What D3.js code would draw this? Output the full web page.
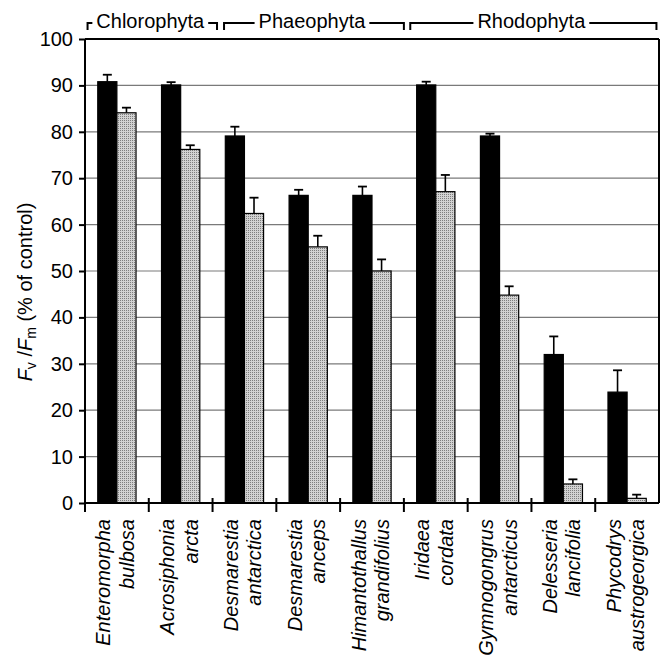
<!DOCTYPE html>
<html>
<head>
<meta charset="utf-8">
<script src="https://cdn.jsdelivr.net/npm/d3@7/dist/d3.min.js"></script>
<style>
  html, body { margin: 0; padding: 0; background: #fff; }
  svg { display: block; font-family: "Liberation Sans", Arial, Helvetica, sans-serif; }
</style>
</head>
<body>
<svg id="chart" width="666" height="656"></svg>
<script>
// ---- data ----
const genus   = ["Enteromorpha", "Acrosiphonia", "Desmarestia", "Desmarestia", "Himantothallus", "Iridaea", "Gymnogongrus", "Delesseria", "Phycodrys"];
const species = ["bulbosa", "arcta", "antarctica", "anceps", "grandifolius", "cordata", "antarcticus", "lancifolia", "austrogeorgica"];
const blackValues = [90.8, 90.1, 79.1, 66.3, 66.3, 90.1, 79.1, 32.0, 23.9];
const blackErrors = [1.5, 0.6, 2.0, 1.2, 1.9, 0.7, 0.5, 3.9, 4.7];
const grayValues  = [84.1, 76.2, 62.4, 55.2, 50.0, 67.1, 44.8, 4.1, 1.0];
const grayErrors  = [1.1, 0.9, 3.4, 2.4, 2.5, 3.6, 1.9, 1.0, 0.8];
const yTicks = [0, 10, 20, 30, 40, 50, 60, 70, 80, 90, 100];
const divisions = ["Chlorophyta", "Phaeophyta", "Rhodophyta"];
const divisionSpans = [[0.04, 2.07], [2.18, 5.0], [5.1, 8.96]]; // in group units

// ---- layout ----
const svg = d3.select("#chart");
const mLeft = 85, mRight = 659, mTop = 39, mBottom = 503;
const idx = d3.range(genus.length);

const x0 = d3.scaleBand().domain(idx).range([mLeft, mRight]).paddingInner(0.4).paddingOuter(0.2);
const x1 = d3.scaleBand().domain(["black", "gray"]).range([0, x0.bandwidth()]);
const gx = d3.scaleLinear().domain([0, genus.length]).range([mLeft, mRight]);
const y = d3.scaleLinear().domain([0, 100]).range([mBottom, mTop]);

// pattern for stippled gray
const defs = svg.append("defs");
const pat = defs.append("pattern").attr("id", "stipple").attr("width", 2).attr("height", 2)
  .attr("patternUnits", "userSpaceOnUse");
pat.append("rect").attr("width", 2).attr("height", 2).attr("fill", "#d2d2d2");
pat.append("rect").attr("width", 1).attr("height", 1).attr("fill", "#7e7e7e");

// gridlines
svg.append("g").selectAll("line").data(yTicks.filter(d => d > 0 && d < 100)).join("line")
  .attr("x1", mLeft).attr("x2", mRight).attr("y1", d => y(d)).attr("y2", d => y(d))
  .attr("stroke", "#7a7a7a").attr("stroke-width", 1.2);

// bars
const bars = svg.append("g");
idx.forEach(i => {
  const gx0 = x0(i);
  [["black", blackValues[i], blackErrors[i]], ["gray", grayValues[i], grayErrors[i]]].forEach(([s, v, e]) => {
    const bx = gx0 + x1(s);
    const bw = x1.bandwidth();
    const cx = bx + bw / 2;
    bars.append("line").attr("x1", cx).attr("x2", cx).attr("y1", y(v)).attr("y2", y(v + e))
      .attr("stroke", "#000").attr("stroke-width", 1.6);
    bars.append("line").attr("x1", cx - 4.5).attr("x2", cx + 4.5).attr("y1", y(v + e)).attr("y2", y(v + e))
      .attr("stroke", "#000").attr("stroke-width", 1.8);
    bars.append("rect").attr("x", bx).attr("y", y(v)).attr("width", bw).attr("height", y(0) - y(v))
      .attr("fill", s === "black" ? "#000" : "url(#stipple)")
      .attr("stroke", "#000").attr("stroke-width", 1.2);
  });
});

// frame: top line and right border
svg.append("line").attr("x1", mLeft).attr("x2", mRight).attr("y1", y(100)).attr("y2", y(100))
  .attr("stroke", "#000").attr("stroke-width", 2);
svg.append("line").attr("x1", mRight).attr("x2", mRight).attr("y1", y(100)).attr("y2", y(0))
  .attr("stroke", "#000").attr("stroke-width", 2);

// y axis
const yAxis = d3.axisLeft(y).tickValues(yTicks).tickSize(6).tickPadding(6).tickFormat(d3.format("d"));
const ya = svg.append("g").attr("transform", `translate(${mLeft},0)`).call(yAxis);
ya.select(".domain").attr("stroke", "#000").attr("stroke-width", 2).attr("d", `M0,${y(100)}V${y(0)}`);
ya.selectAll(".tick line").attr("stroke", "#000").attr("stroke-width", 2);
ya.selectAll(".tick text").attr("font-size", 20).attr("fill", "#000")
  .attr("font-family", "'Liberation Sans', Arial, Helvetica, sans-serif");

// x axis line and boundary ticks
svg.append("line").attr("x1", mLeft).attr("x2", mRight).attr("y1", y(0)).attr("y2", y(0))
  .attr("stroke", "#000").attr("stroke-width", 2);
svg.append("g").selectAll("line").data(d3.range(genus.length)).join("line")
  .attr("x1", d => gx(d)).attr("x2", d => gx(d)).attr("y1", y(0) - 5).attr("y2", y(0) + 9)
  .attr("stroke", "#000").attr("stroke-width", 2);

// x labels
const lab = svg.append("g").attr("font-size", 20).attr("font-style", "italic").attr("fill", "#000");
idx.forEach(i => {
  const c = x0(i) + x0.bandwidth() / 2;
  lab.append("text").attr("transform", `translate(${c - 6.5},${y(0) + 16}) rotate(-90)`)
    .attr("text-anchor", "end").text(genus[i]);
  lab.append("text").attr("transform", `translate(${c + 17},${y(0) + 16}) rotate(-90)`)
    .attr("text-anchor", "end").text(species[i]);
});

// y label
const yl = svg.append("text").attr("transform", "translate(32,292) rotate(-90)")
  .attr("text-anchor", "middle").attr("font-size", 20).attr("fill", "#000");
yl.append("tspan").attr("font-style", "italic").text("F");
yl.append("tspan").attr("font-size", 14).attr("dy", 4).text("v");
yl.append("tspan").attr("dy", -4).text(" /");
yl.append("tspan").attr("font-style", "italic").text("F");
yl.append("tspan").attr("font-size", 14).attr("dy", 4).text("m");
yl.append("tspan").attr("dy", -4).text(" (% of control)");

// division brackets
const br = svg.append("g");
const brY = 23, brDrop = 7, gap = 4;
divisions.forEach((name, k) => {
  const a = gx(divisionSpans[k][0]), b = gx(divisionSpans[k][1]);
  const mid = (a + b) / 2 - 2;
  const t = br.append("text").attr("x", mid).attr("y", 28).attr("text-anchor", "middle")
    .attr("font-size", 20).attr("fill", "#000").text(name);
  const w = t.node().getComputedTextLength();
  const tl = mid - w / 2 - gap, tr = mid + w / 2 + gap;
  br.append("path").attr("d", `M${a},${brY + brDrop}V${brY}H${tl}`)
    .attr("fill", "none").attr("stroke", "#000").attr("stroke-width", 2);
  br.append("path").attr("d", `M${tr},${brY}H${b}V${brY + brDrop}`)
    .attr("fill", "none").attr("stroke", "#000").attr("stroke-width", 2);
});
</script>
</body>
</html>
